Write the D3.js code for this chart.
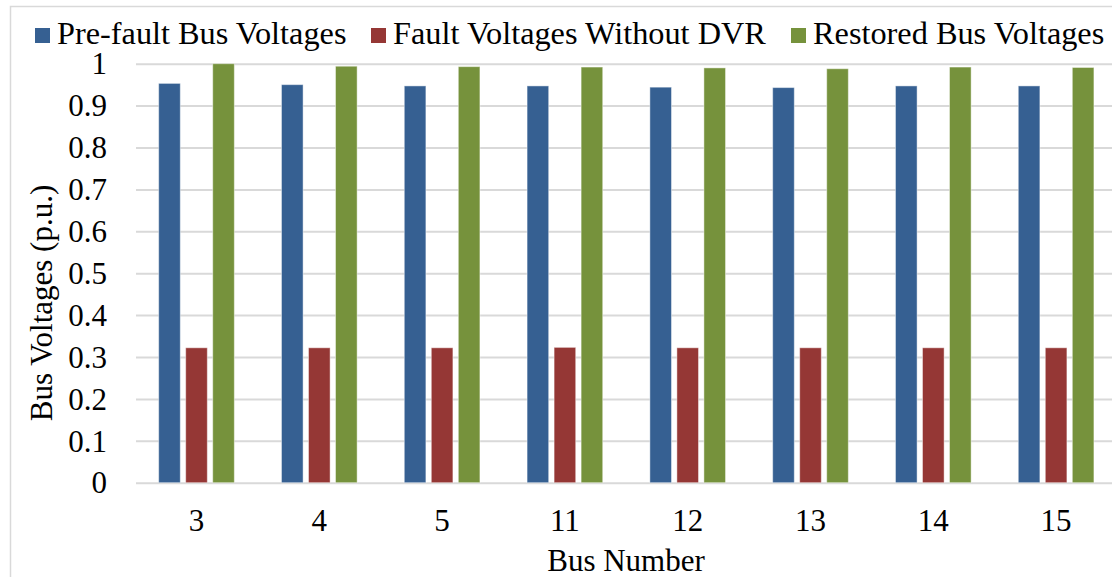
<!DOCTYPE html>
<html>
<head>
<meta charset="UTF-8">
<title>Bus Voltages</title>
<script src="https://cdn.jsdelivr.net/npm/d3@7"></script>
<style>
  * { margin: 0; padding: 0; }
  body { background: #fff; overflow: hidden; }
  svg text { font-family: "Liberation Serif", "Times New Roman", serif; fill: #000; }
</style>
</head>
<body>
<svg id="chart" width="1112" height="577"></svg>
<script>
// data
const buses = ["3", "4", "5", "11", "12", "13", "14", "15"];
const preFault = [0.953, 0.950, 0.947, 0.947, 0.944, 0.943, 0.947, 0.947];
const faultNoDvr = [0.322, 0.322, 0.322, 0.323, 0.322, 0.322, 0.322, 0.322];
const restored = [1.000, 0.994, 0.993, 0.992, 0.990, 0.988, 0.992, 0.991];
const seriesNames = ["Pre-fault Bus Voltages", "Fault Voltages Without DVR", "Restored Bus Voltages"];
const seriesColors = ["#366092", "#953735", "#76923c"];
const yTicks = [0, 0.1, 0.2, 0.3, 0.4, 0.5, 0.6, 0.7, 0.8, 0.9, 1];

const seriesValues = [preFault, faultNoDvr, restored];
const svg = d3.select("#chart");
const fontSize = 31;

// outer frame
svg.append("rect").attr("x", 10.5).attr("y", 6.5).attr("width", 1120).attr("height", 600)
  .attr("fill", "none").attr("stroke", "#d9d9d9").attr("stroke-width", 1.5);

// scales
const x0 = d3.scaleBand().domain(buses).range([135.1, 1117.5]).paddingInner(0.34).paddingOuter(0.17);
const x1 = d3.scaleBand().domain(seriesNames).range([0, x0.bandwidth()]).paddingInner(0.2).paddingOuter(0.1);
const y = d3.scaleLinear().domain([0, 1]).range([482.7, 63.7]);

// gridlines
svg.append("g").attr("transform", "translate(136,0)")
  .call(d3.axisLeft(y).tickValues(yTicks).tickSize(-1000).tickFormat(""))
  .call(g => g.select(".domain").remove())
  .call(g => g.selectAll("line").attr("stroke", "#d9d9d9").attr("stroke-width", 2));

// y tick labels
svg.append("g").attr("transform", "translate(107,0)")
  .call(d3.axisLeft(y).tickValues(yTicks).tickSize(0).tickPadding(0).tickFormat(d3.format("")))
  .call(g => g.select(".domain").remove())
  .call(g => g.selectAll("text").attr("font-size", fontSize).attr("dy", "0.33em")
    .style("font-family", "'Liberation Serif', 'Times New Roman', serif").attr("fill", "#000"));

// bars
const groups = svg.append("g").selectAll("g").data(buses).join("g")
  .attr("transform", d => `translate(${x0(d)},0)`);
groups.selectAll("rect")
  .data((d, i) => seriesNames.map((s, k) => ({ s, k, v: seriesValues[k][i] })))
  .join("rect")
  .attr("x", d => x1(d.s))
  .attr("y", d => y(d.v))
  .attr("width", x1.bandwidth())
  .attr("height", d => y(0) - y(d.v))
  .attr("fill", d => seriesColors[d.k])
  .attr("stroke", "#fff").attr("stroke-opacity", 0.45).attr("stroke-width", 1);

// x tick labels
svg.append("g").attr("transform", "translate(0,482.7)")
  .call(d3.axisBottom(x0).tickSize(0).tickPadding(0))
  .call(g => g.select(".domain").remove())
  .call(g => g.selectAll("text").attr("font-size", fontSize).attr("dy", null).attr("y", 48)
    .style("font-family", "'Liberation Serif', 'Times New Roman', serif").attr("fill", "#000"));

// axis titles
svg.append("text").attr("x", 626).attr("y", 571).attr("text-anchor", "middle")
  .attr("font-size", fontSize).text("Bus Number");
svg.append("text").attr("transform", "translate(52,303) rotate(-90)").attr("text-anchor", "middle")
  .attr("font-size", fontSize).text("Bus Voltages (p.u.)");

// legend
const legendX = [35, 371, 791];
const legend = svg.append("g").selectAll("g").data(seriesNames).join("g")
  .attr("transform", (d, i) => `translate(${legendX[i]},0)`);
legend.append("rect").attr("x", 0).attr("y", 28).attr("width", 15).attr("height", 15)
  .attr("fill", (d, i) => seriesColors[i]);
legend.append("text").attr("x", 22).attr("y", 44).attr("font-size", 32.3).text(d => d);
</script>
</body>
</html>
